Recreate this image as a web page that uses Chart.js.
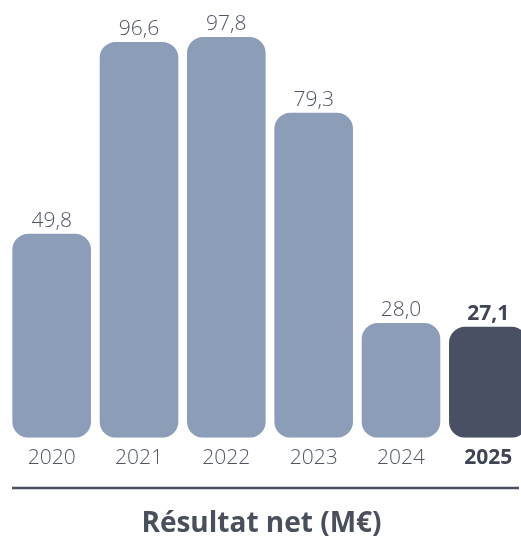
<!DOCTYPE html>
<html>
<head>
<meta charset="utf-8">
<script src="https://cdn.jsdelivr.net/npm/chart.js@4/dist/chart.umd.min.js"></script>
<style>
  html, body { margin: 0; padding: 0; background: #ffffff; overflow: hidden; }
  #wrap { position: relative; width: 532px; height: 540px; }
</style>
</head>
<body>
<div id="wrap"><canvas id="c"></canvas></div>
<script>
const years = ['2020', '2021', '2022', '2023', '2024', '2025'];
const netIncome = [49.8, 96.6, 97.8, 79.3, 28.0, 27.1];
const highlightIndex = 5;
const chartTitle = 'Résultat net (M€)';

const LIGHT = '#8c9db8';
const DARK = '#4a5063';
const TEXT = '#4f5566';
const FONT = "'Open Sans', 'Noto Sans', sans-serif";

const frNumber = v => v.toFixed(1).replace('.', ',');

// Value labels above each bar, the rule under the years and the caption
const annotate = {
  id: 'annotate',
  afterDatasetsDraw(chart) {
    const ctx = chart.ctx;
    const meta = chart.getDatasetMeta(0);
    ctx.save();
    ctx.textAlign = 'center';
    ctx.textBaseline = 'alphabetic';
    meta.data.forEach((bar, i) => {
      const bold = i === highlightIndex;
      ctx.font = (bold ? '700 21px ' : '300 21px ') + FONT;
      ctx.fillStyle = bold ? '#3f4555' : TEXT;
      ctx.fillText(frNumber(netIncome[i]), bar.x, bar.y - 7);
    });

    const xs = chart.scales.x;
    const yLine = xs.bottom + 9;
    const left = 12, right = 519;
    ctx.strokeStyle = '#4a5063';
    ctx.lineWidth = 2.5;
    ctx.beginPath();
    ctx.moveTo(left, yLine);
    ctx.lineTo(right, yLine);
    ctx.stroke();

    ctx.font = '700 28px ' + FONT;
    ctx.fillStyle = '#4a4f5c';
    ctx.fillText(chartTitle, (left + right) / 2 - 4, yLine + 44);
    ctx.restore();
  }
};

new Chart(document.getElementById('c'), {
  type: 'bar',
  data: {
    labels: years,
    datasets: [{
      data: netIncome,
      backgroundColor: years.map((_, i) => i === highlightIndex ? DARK : LIGHT),
      borderRadius: 16,
      borderSkipped: false,
      barPercentage: 0.9,
      categoryPercentage: 1.0
    }]
  },
  options: {
    responsive: true,
    maintainAspectRatio: false,
    animation: false,
    layout: { padding: { left: 8, right: 0, top: 28, bottom: 61 } },
    plugins: {
      legend: { display: false },
      tooltip: { enabled: false },
      title: { display: false }
    },
    scales: {
      x: {
        grid: { display: false, drawTicks: false },
        border: { display: false },
        ticks: {
          padding: 8,
          color: ctx => ctx.index === highlightIndex ? '#3f4555' : TEXT,
          font: ctx => ({
            family: FONT,
            size: 21,
            weight: ctx.index === highlightIndex ? '700' : '300'
          })
        }
      },
      y: {
        display: false,
        min: 0,
        max: 100
      }
    }
  },
  plugins: [annotate]
});
</script>
</body>
</html>
